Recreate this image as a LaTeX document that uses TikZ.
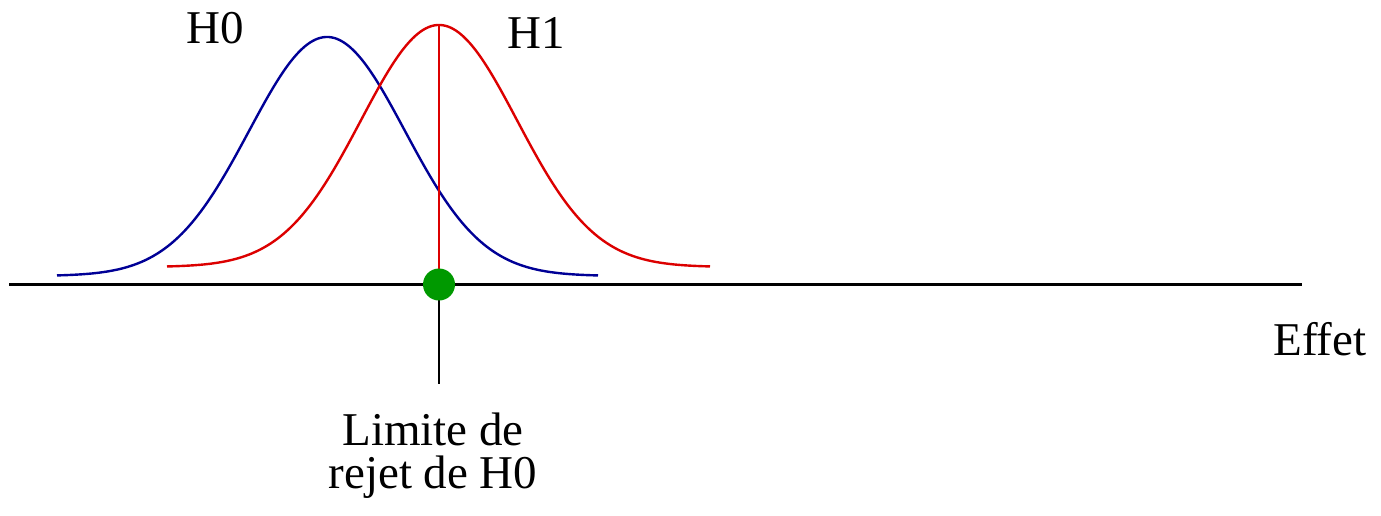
\documentclass[tikz,border=0pt]{standalone}
\usepackage{fontspec}
\setmainfont{Liberation Serif}
\definecolor{hzeroblue}{RGB}{0,0,150}
\definecolor{honered}{RGB}{220,0,0}
\definecolor{dotgreen}{RGB}{0,153,0}
\begin{document}
\begin{tikzpicture}[x=0.5pt,y=-0.5pt,
  lab/.style={font=\fontsize{23.5}{21.5}\selectfont, inner sep=0pt, anchor=base},
  hzerocurve/.style={draw=hzeroblue, line width=1.2pt},
  honecurve/.style={draw=honered, line width=1.2pt},
  axisline/.style={draw=black, line width=1.4pt},
  dotstyle/.style={circle, fill=dotgreen, minimum size=16pt, inner sep=0pt}]
\useasboundingbox (0,0) rectangle (1381,515);
% coordinates
\coordinate (axL) at (9,284.5);
\coordinate (axR) at (1302,284.5);
\coordinate (dotc) at (439,284.5);
\coordinate (vbot) at (439,384);
\coordinate (peak) at (439,24);
% curves
\draw[hzerocurve] plot[domain=57:598, samples=200, smooth] (\x, {276-239*exp(-0.5*((\x-327)/78)^2)});
\draw[honecurve] plot[domain=167:710, samples=200, smooth] (\x, {267-242*exp(-0.5*((\x-439)/78)^2)});
% lines
\draw[draw=honered, line width=1.2pt] (peak) -- (dotc);
\draw[axisline] (axL) -- (axR);
\draw[axisline] (dotc) -- (vbot);
\node[dotstyle] (dot) at (dotc) {};
% labels
\node[lab] (hzero) at (215,43) {H0};
\node[lab] (hone) at (536,48) {H1};
\node[lab] (effet) at (1320,355) {Effet};
\node[lab, align=center] (limite) at (433,488) {Limite de\\rejet de H0};
\end{tikzpicture}
\end{document}
